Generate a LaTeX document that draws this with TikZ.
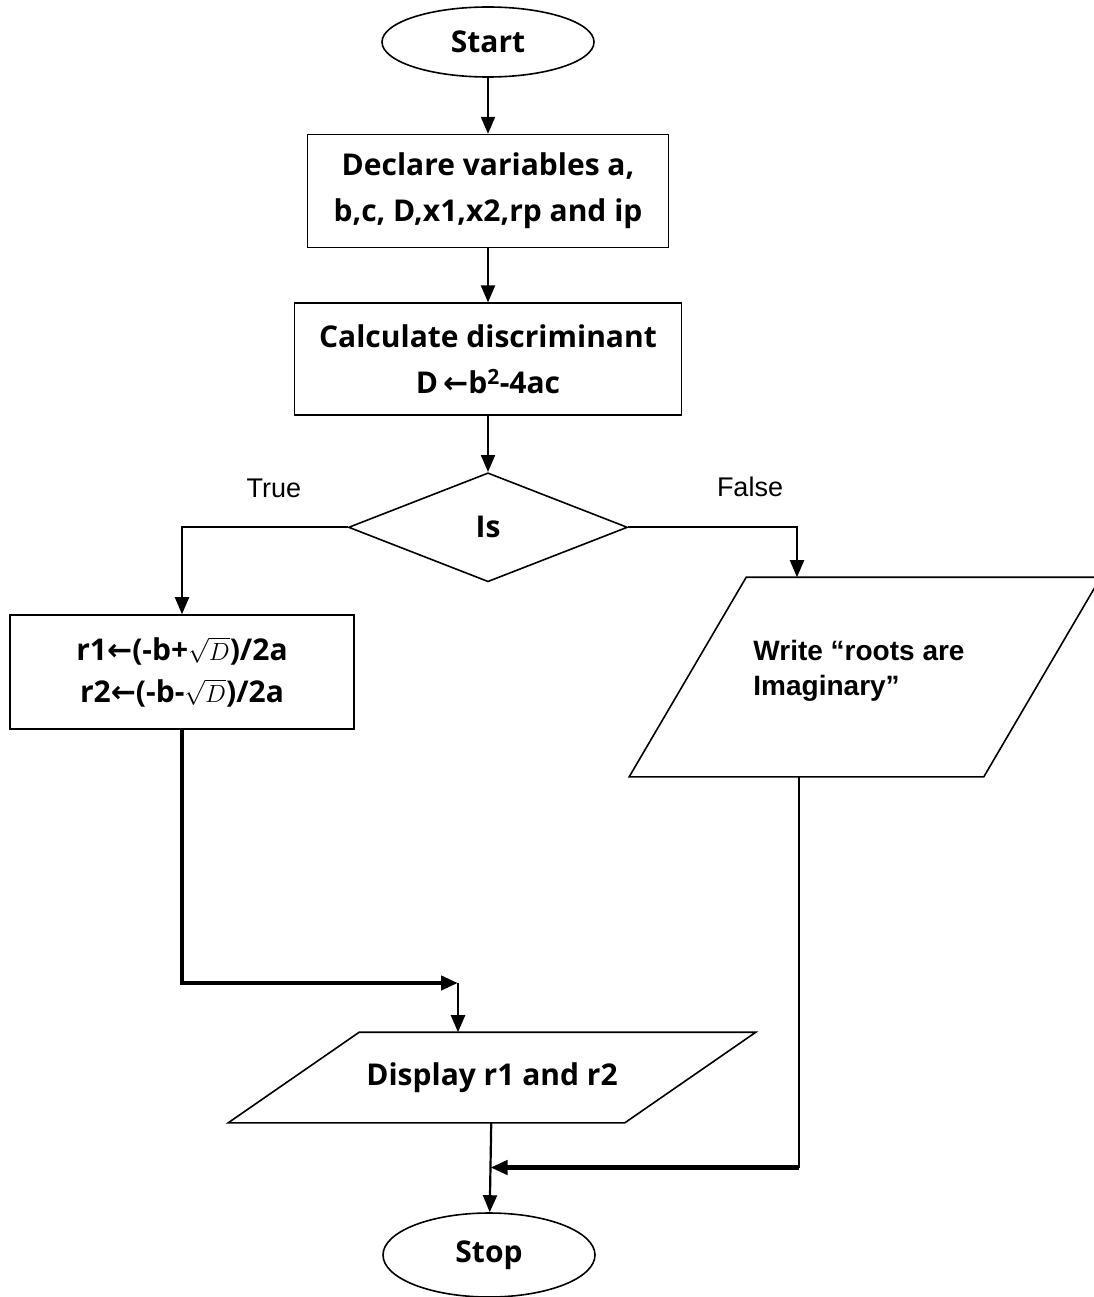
\documentclass[tikz,border=0pt]{standalone}
\usepackage{fontspec}
\usepackage{amsmath}
\usetikzlibrary{shapes.geometric, arrows.meta, positioning, calc}

\newfontfamily\boxfont{Open Sans}
\newfontfamily\arialfont{Liberation Sans}
\newfontfamily\symfont{DejaVu Sans}
\newcommand{\asgn}{{\symfont\bfseries ←}}
% slanted outline round a plain node: #1 node name, #2 half of the slant
\newcommand{\slantbox}[2]{%
  \draw[line width=1.6pt] ($(#1.north west)+(#2,0)$) -- ($(#1.north east)+(#2,0)$)
    -- ($(#1.south east)-(#2,0)$) -- ($(#1.south west)-(#2,0)$) -- cycle;}

\begin{document}
\begin{tikzpicture}[
    x=1pt, y=-1pt,
    node distance=56pt,
    base/.style={draw, line width=1.6pt, inner sep=0pt, align=center, font=\boxfont\bfseries\fontsize{30}{46}\selectfont},
    term/.style={base, ellipse, minimum width=212pt, minimum height=70pt},
    proc/.style={base, rectangle, minimum height=113pt},
    decision/.style={base, diamond, minimum width=279pt, minimum height=109pt},
    io/.style={base, draw=none, rectangle},
    arrow/.style={-{Triangle[length=17pt,width=14pt]}, line width=2.2pt},
    flow/.style={arrow, line width=4.2pt},
    lbl/.style={font=\arialfont\fontsize{27}{32}\selectfont}
]
    \useasboundingbox (0,0) rectangle (1093,1297);

    % Main column
    \node[term] (start) at (488,42) {Start};
    \node[proc, minimum width=361pt, below=56pt of start] (decl) {Declare variables a,\\b,c, D,x1,x2,rp and ip};
    \node[proc, minimum width=387pt, minimum height=112pt, below=54pt of decl] (calc) {Calculate discriminant\\D\,\asgn b\textsuperscript{2}-4ac};
    \node[decision, below=56pt of calc] (dec) {Is};

    % Branch labels
    \node[lbl] (truelbl) at (274,488) {True};
    \node[lbl] (falselbl) at (750,487) {False};

    % True branch
    \node[proc, minimum width=344pt, minimum height=114pt, font=\boxfont\bfseries\fontsize{30}{42}\selectfont] (roots) at (182,672) {r1\asgn(-b+$\sqrt{D}$)/2a\\r2\asgn(-b-$\sqrt{D}$)/2a};

    % False branch
    \node[io, minimum width=353pt, minimum height=198pt, align=left, font=\arialfont\bfseries\fontsize{28}{35}\selectfont] (imag) at (865,677) {\hspace*{-12pt}Write “roots are\\\hspace*{-12pt}Imaginary”\\[-17pt]};
    \slantbox{imag}{58.5}

    % Output and end
    \node[io, minimum width=395pt, minimum height=89pt] (display) at (492,1077.5) {Display r1 and r2};
    \slantbox{display}{65.5}
    \node[term, minimum height=84pt] (stop) at (489,1255) {Stop};

    % Connectors
    \draw[arrow] (start) -- (decl);
    \draw[arrow] (decl) -- (calc);
    \draw[arrow] (calc) -- (dec);
    \draw[arrow] (dec.west) -| (roots.north);
    \draw[arrow] (dec.east) -| ($(imag.north)+(-68,0)$);

    \coordinate (merge) at (458,983);
    \draw[flow] (roots.south) |- (merge);
    \draw[arrow] (merge) -- (merge |- display.north);

    \draw[arrow] (display) -- (stop);
    \coordinate (join) at ($(display.south)!0.5!(stop.north)$);
    \coordinate (imagout) at ($(imag.south)+(-66,0)$);
    \draw[line width=2.2pt] (imagout) -- (imagout |- join);
    \draw[flow] (imagout |- join) -- (join);
\end{tikzpicture}
\end{document}
